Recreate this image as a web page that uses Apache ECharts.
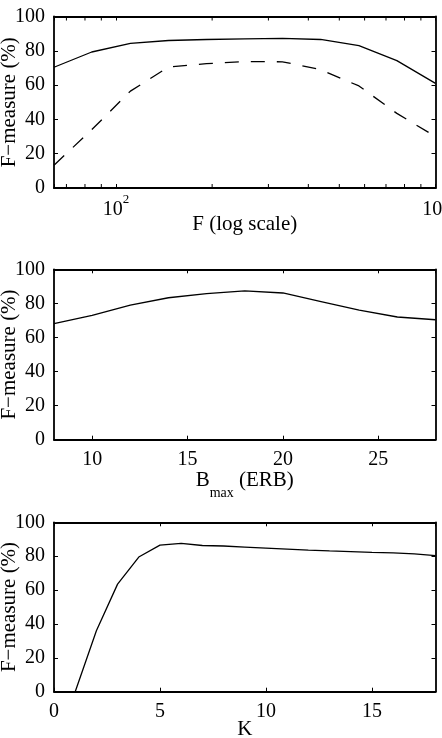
<!DOCTYPE html>
<html lang="en">
<head>
<meta charset="UTF-8"/>
<script src="https://cdn.jsdelivr.net/npm/echarts@6/dist/echarts.min.js"></script>
<title>F-measure</title>
<style>
    html, body { margin: 0; padding: 0; background: #fff; }
    #chart { width: 442px; height: 738px; }
</style>
</head>
<body>
<div id="chart"></div>
<script type="text/javascript">
// top panel: F (log scale), two curves
var fValues = [64, 84, 111, 146, 192, 253, 332, 437, 576, 757, 1000];
var fSolid = [70.4, 79.3, 84.3, 86, 86.6, 87, 87.2, 86.6, 83, 74.3, 61];
var fDashed = [13.3, 34, 56.5, 70.5, 72.5, 73.7, 73.6, 69, 59.5, 43.5, 30];
var fMinorTicks = [70, 80, 90, 200, 300, 400, 500, 600, 700, 800, 900];

// middle panel: B_max (ERB)
var bValues = [8, 10, 12, 14, 16, 18, 20, 22, 24, 26, 28];
var bScores = [68.1, 73, 79, 83.3, 85.7, 87.3, 86.1, 81, 76, 72, 70.4];

// bottom panel: K
var kValues = [1, 2, 3, 4, 5, 6, 7, 8, 9, 10, 11, 12, 13, 14, 15, 16, 17, 18];
var kScores = [0, 36, 63.5, 79.5, 86.5, 87.5, 86.3, 86, 85.4, 84.8, 84.2, 83.6, 83.1, 82.7, 82.3, 82, 81.4, 80.3];

var yTicks = [0, 20, 40, 60, 80, 100];
var yName = 'F\u2212measure (%)';

var fontFam = '"Liberation Serif", "DejaVu Serif", serif';
var tickLen = 4;
var frameLine = {color: '#000', width: 1.8};

function pairs(xs, ys) {
    var out = [];
    for (var i = 0; i < xs.length; i++) {
        out.push([xs[i], ys[i]]);
    }
    return out;
}

function bottomAxis(gi, extra) {
    var ax = {
        gridIndex: gi,
        type: 'value',
        position: 'bottom',
        axisLine: {show: true, onZero: false, lineStyle: frameLine},
        axisTick: {show: true, inside: true, length: tickLen, lineStyle: {color: '#000', width: 1}},
        axisLabel: {color: '#000', fontFamily: fontFam, fontSize: 20, margin: 10},
        splitLine: {show: false},
        nameLocation: 'middle',
        nameMoveOverlap: false,
        nameTextStyle: {color: '#000', fontFamily: fontFam, fontSize: 21}
    };
    for (var k in extra) ax[k] = extra[k];
    return ax;
}

function topAxis(gi, extra) {
    var ax = {
        gridIndex: gi,
        type: 'value',
        position: 'top',
        axisLine: {show: true, onZero: false, lineStyle: frameLine},
        axisTick: {show: true, inside: true, length: tickLen, lineStyle: {color: '#000', width: 1}},
        axisLabel: {show: false},
        splitLine: {show: false}
    };
    for (var k in extra) ax[k] = extra[k];
    return ax;
}

function leftAxis(gi) {
    return {
        gridIndex: gi,
        type: 'value',
        position: 'left',
        min: yTicks[0],
        max: yTicks[yTicks.length - 1],
        interval: 20,
        axisLine: {show: true, onZero: false, lineStyle: frameLine},
        axisTick: {show: true, inside: true, length: tickLen, lineStyle: {color: '#000', width: 1}},
        axisLabel: {color: '#000', fontFamily: fontFam, fontSize: 20, margin: 9},
        splitLine: {show: false},
        name: yName,
        nameLocation: 'middle',
        nameGap: 34,
        nameMoveOverlap: false,
        nameTextStyle: {color: '#000', fontFamily: fontFam, fontSize: 21}
    };
}

function rightAxis(gi) {
    return {
        gridIndex: gi,
        type: 'value',
        position: 'right',
        min: 0,
        max: 100,
        interval: 20,
        axisLine: {show: true, onZero: false, lineStyle: frameLine},
        axisTick: {show: true, inside: true, length: tickLen, lineStyle: {color: '#000', width: 1}},
        axisLabel: {show: false},
        splitLine: {show: false}
    };
}

function logLabel(v) {
    var p = Math.log(v) / Math.LN10;
    var n = Math.round(p);
    if (Math.abs(p - n) > 1e-6) return '';
    return '{b|10}{sup|' + n + '}';
}

var myChart = echarts.init(document.getElementById('chart'));

var option = {
    backgroundColor: '#fff',
    animation: false,
    grid: [
        {left: 54, right: 6.5, top: 16.5, height: 171.5, outerBoundsMode: 'none', containLabel: false},
        {left: 54, right: 6.5, top: 269.3, height: 170.4, outerBoundsMode: 'none', containLabel: false},
        {left: 54, right: 6.5, top: 522.3, height: 169.4, outerBoundsMode: 'none', containLabel: false}
    ],
    xAxis: [
        bottomAxis(0, {
            type: 'log', logBase: 10, min: 64, max: 1000,
            name: 'F (log scale)', nameGap: 26,
            axisLabel: {
                color: '#000', fontFamily: fontFam, fontSize: 20, margin: 5,
                formatter: logLabel,
                rich: {
                    b: {fontFamily: fontFam, fontSize: 20, color: '#000', lineHeight: 27, verticalAlign: 'bottom'},
                    sup: {fontFamily: fontFam, fontSize: 13, color: '#000', verticalAlign: 'top'}
                }
            }
        }),
        topAxis(0, {type: 'log', logBase: 10, min: 64, max: 1000}),
        bottomAxis(1, {
            min: 8, max: 28, splitNumber: 4,
            name: '{b|B}{sub|max}{t| (ERB)}', nameGap: 30,
            axisLabel: {color: '#000', fontFamily: fontFam, fontSize: 20, margin: 10, showMinLabel: false, showMaxLabel: false},
            nameTextStyle: {
                color: '#000', fontFamily: fontFam, fontSize: 21,
                rich: {
                    b: {fontFamily: fontFam, fontSize: 21, color: '#000', verticalAlign: 'top'},
                    sub: {fontFamily: fontFam, fontSize: 14, color: '#000', lineHeight: 31, verticalAlign: 'bottom'},
                    t: {fontFamily: fontFam, fontSize: 21, color: '#000', verticalAlign: 'top'}
                }
            }
        }),
        topAxis(1, {min: 8, max: 28, splitNumber: 4}),
        bottomAxis(2, {
            min: 0, max: 18, interval: 5,
            name: 'K', nameGap: 27,
            axisLabel: {color: '#000', fontFamily: fontFam, fontSize: 20, margin: 10, showMaxLabel: false}
        }),
        topAxis(2, {min: 0, max: 18, interval: 5})
    ],
    yAxis: [
        leftAxis(0), rightAxis(0),
        leftAxis(1), rightAxis(1),
        leftAxis(2), rightAxis(2)
    ],
    series: [
        {
            type: 'line', xAxisIndex: 0, yAxisIndex: 0,
            data: pairs(fValues, fSolid),
            symbol: 'none', silent: true,
            lineStyle: {color: '#000', width: 1.3}
        },
        {
            type: 'line', xAxisIndex: 0, yAxisIndex: 0,
            data: pairs(fValues, fDashed),
            symbol: 'none', silent: true,
            lineStyle: {color: '#000', width: 1.3, type: [14, 12]}
        },
        {
            // minor ticks of the log axis (bottom and top edges)
            type: 'custom', xAxisIndex: 0, yAxisIndex: 0,
            silent: true, clip: false,
            data: fMinorTicks.map(function (f) { return [f, 0]; }),
            renderItem: function (params, api) {
                var x = api.coord([api.value(0), 0])[0];
                var cs = params.coordSys;
                var st = {stroke: '#000', lineWidth: 1};
                return {
                    type: 'group',
                    children: [
                        {type: 'line', shape: {x1: x, y1: cs.y + cs.height, x2: x, y2: cs.y + cs.height - tickLen}, style: st},
                        {type: 'line', shape: {x1: x, y1: cs.y, x2: x, y2: cs.y + tickLen}, style: st}
                    ]
                };
            }
        },
        {
            type: 'line', xAxisIndex: 2, yAxisIndex: 2,
            data: pairs(bValues, bScores),
            symbol: 'none', silent: true,
            lineStyle: {color: '#000', width: 1.3}
        },
        {
            type: 'line', xAxisIndex: 4, yAxisIndex: 4,
            data: pairs(kValues, kScores),
            symbol: 'none', silent: true,
            lineStyle: {color: '#000', width: 1.3}
        }
    ]
};

myChart.setOption(option);
</script>
</body>
</html>
